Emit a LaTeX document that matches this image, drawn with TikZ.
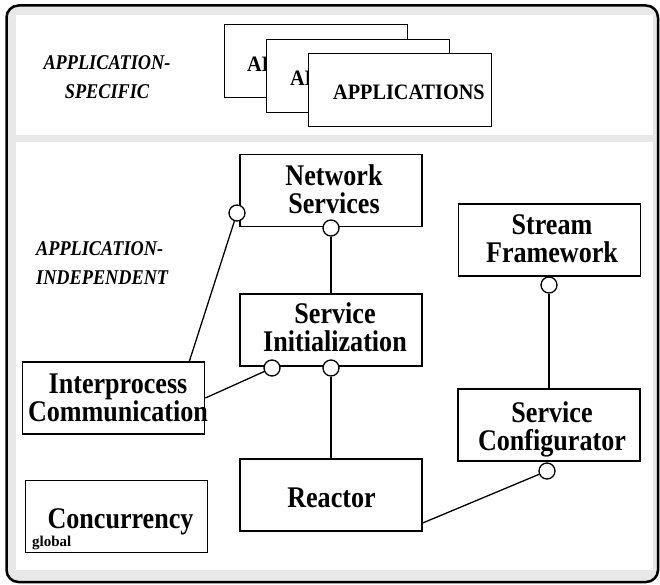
\documentclass[tikz,border=0pt]{standalone}
\usepackage{fontspec}
\newfontfamily\bxfont[FakeStretch=0.87]{Liberation Serif}
\newfontfamily\apfont[FakeStretch=0.92]{Liberation Serif}
\newfontfamily\glfont{Liberation Serif}
\usetikzlibrary{calc}
\definecolor{panelgray}{RGB}{232,232,232}
\begin{document}
\begin{tikzpicture}[x=1pt,y=-1pt,
  box/.style={draw, line width=1.8pt, fill=white, minimum width=182pt, minimum height=72pt, inner sep=0pt},
  appbox/.style={draw, line width=1.3pt, fill=white, minimum width=182.5pt, minimum height=72.5pt, inner sep=0pt},
  lbl/.style={font=\bxfont\bfseries\fontsize{30}{28}\selectfont, align=center, inner sep=0pt},
  ital/.style={font=\bxfont\bfseries\itshape\fontsize{21}{29}\selectfont, inner sep=0pt},
  apptext/.style={font=\apfont\bfseries\fontsize{22}{22}\selectfont, anchor=base west, inner sep=0pt},
  lolli/.style={circle, draw, line width=1.3pt, fill=white, minimum size=16pt, inner sep=0pt},
  lnthin/.style={line width=1.3pt},
  lnthick/.style={line width=2pt}]
\useasboundingbox (0,0) rectangle (660,585);
% frame and panels
\draw[line width=2.5pt, fill=panelgray, rounded corners=12pt] (6.5,5.5) rectangle (658,582);
\fill[white] (16,15) rectangle (653,135);
\fill[white] (16,142) rectangle (653,570);
% layer labels
\node[ital, align=center] (specific) at (107,76.7) {APPLICATION-\\SPECIFIC};
\node[ital, align=left, anchor=north west] (indep) at (36,241.7) {APPLICATION-\\INDEPENDENT};
% stacked applications
\node[appbox] (app1) at (316,61) {};
\node[apptext] (app1t) at (247,71.5) {APPLICATIONS};
\node[appbox] (app2) at (358,76) {};
\node[apptext] (app2t) at (290,86) {APPLICATIONS};
\node[appbox] (app3) at (400,90) {};
\node[apptext] (app3t) at (333,100) {APPLICATIONS};
% components
\node[box] (ns) at (331,190.5) {};
\node[lbl] (nsT) at (334,189.4) {Network\\Services};
\node[box] (si) at (331,330) {};
\node[lbl] (siT) at (335,326.8) {Service\\Initialization};
\node[box] (ipc) at (113.5,398) {};
\node[lbl] (ipcT) at (118,397.8) {Interprocess\\Communication};
\node[box] (re) at (331,495) {};
\node[lbl, anchor=base] (reT) at (331.5,507) {Reactor};
\node[box] (sf) at (549.5,240) {};
\node[lbl] (sfT) at (552,238.8) {Stream\\Framework};
\node[box] (sc) at (549,425) {};
\node[lbl] (scT) at (552,429) {Service\\Configurator};
\node[box] (cc) at (116.5,516.5) {};
\node[lbl, anchor=base] (ccT) at (120.5,528) {Concurrency};
\node[anchor=base west, inner sep=0pt, font=\glfont\bfseries\fontsize{15}{15}\selectfont] (glob) at (32,546) {global};
% lollipops
\node[lolli] (c1) at (237,213) {};
\node[lolli] (c2) at (331,228) {};
\node[lolli] (c3) at (272,368) {};
\node[lolli] (c4) at (331,368) {};
\node[lolli] (c5) at (549,285) {};
\node[lolli] (c6) at (547,471) {};
% connectors
\draw[lnthin] (c1) -- ($(ipc.north east)+(-16,0)$);
\draw[lnthin] (c2) -- (c2 |- si.north);
\draw[lnthin] (c3) -- (ipc.east);
\draw[lnthick] (c4) -- (c4 |- re.north);
\draw[lnthick] (c5) -- (c5 |- sc.north);
\draw[lnthin] (c6) -- ($(re.south east)+(0,-9)$);
\end{tikzpicture}
\end{document}
